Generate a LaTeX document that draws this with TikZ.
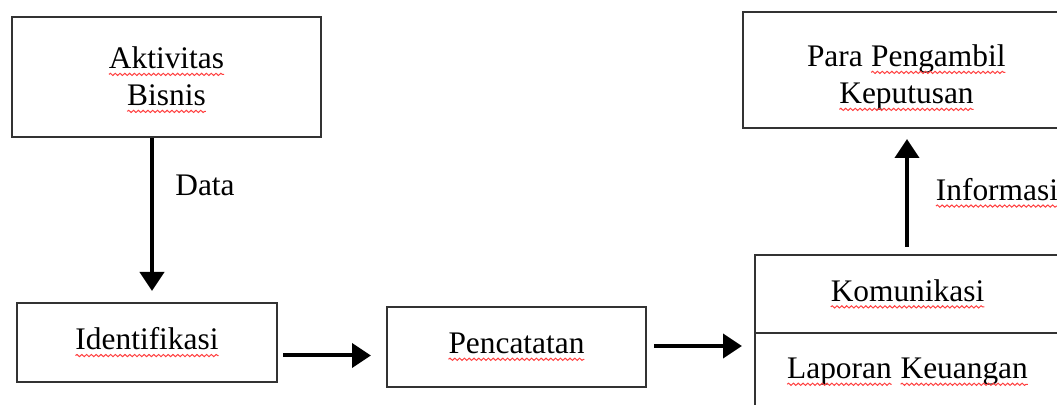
\documentclass[tikz,border=0pt]{standalone}
\usepackage{fontspec}
\setmainfont{Liberation Serif}
\usetikzlibrary{arrows.meta,decorations.pathmorphing}
\newcommand{\sq}[1]{\tikz[baseline=(w.base)]{\node[inner sep=0pt, outer sep=0pt, draw=none, minimum width=0pt, minimum height=0pt, anchor=base] (w) {#1};
  \draw[red!75, line width=0.5pt, decorate, decoration={snake, amplitude=0.55pt, segment length=2.4pt}] ([yshift=-2.8pt]w.base west) -- ([yshift=-2.8pt]w.base east);}}
\tikzset{
  boxnode/.style={draw=black!80, line width=1pt, rectangle, inner sep=0pt, align=center,
    font=\fontsize{15.7}{18.5}\selectfont},
  lbl/.style={font=\fontsize{15.7}{18.5}\selectfont, inner sep=0pt, align=center},
  arr/.style={line width=2pt, -{Triangle[length=9.5pt,width=12pt]}}
}
\begin{document}
\begin{tikzpicture}[x=0.5pt,y=-0.5pt]
\useasboundingbox (0,0) rectangle (1057,405);
\clip (0,0) rectangle (1057,405);
\fill[white] (0,0) rectangle (1057,405);
\node[boxnode, minimum width=154.5pt, minimum height=60pt] (akt) at (166.5,77) {};
\node[lbl] (akttext) at (166.5,80) {\sq{Aktivitas}\\\sq{Bisnis}};
\node[boxnode, minimum width=163.5pt, minimum height=58pt] (para) at (906.5,70) {};
\node[lbl] (paratext) at (906.5,78) {Para \sq{Pengambil}\\\sq{Keputusan}};
\node[boxnode, minimum width=130pt, minimum height=39.5pt] (iden) at (147,342.5) {\sq{Identifikasi}};
\node[boxnode, minimum width=129.5pt, minimum height=40pt] (pen) at (516.5,347) {\sq{Pencatatan}};
\node[boxnode, minimum width=152.5pt, minimum height=39pt] (kom) at (907.5,294) {\sq{Komunikasi}};
\node[boxnode, minimum width=152.5pt, minimum height=39pt] (lap) at (907.5,372) {\sq{Laporan} \sq{Keuangan}};
\coordinate (dx) at (152,0);
\coordinate (ux) at (907,0);
\draw[arr, shorten >=5.5pt] (akt.south -| dx) -- (iden.north -| dx);
\node[lbl] (data) at (205,185) {Data};
\draw[arr, shorten <=2.5pt, shorten >=7.5pt] ([yshift=-6.5pt]iden.east) -- ([yshift=-6.5pt]iden.east -| pen.west);
\draw[arr, shorten <=3.5pt, shorten >=6pt] ([yshift=0.5pt]pen.east) -- ([yshift=0.5pt]pen.east -| lap.west);
\draw[arr, shorten <=3.5pt, shorten >=5pt] (kom.north -| ux) -- (para.south -| ux);
\node[lbl, anchor=west] (info) at (935,193) {\sq{Informasi}};
\end{tikzpicture}
\end{document}
